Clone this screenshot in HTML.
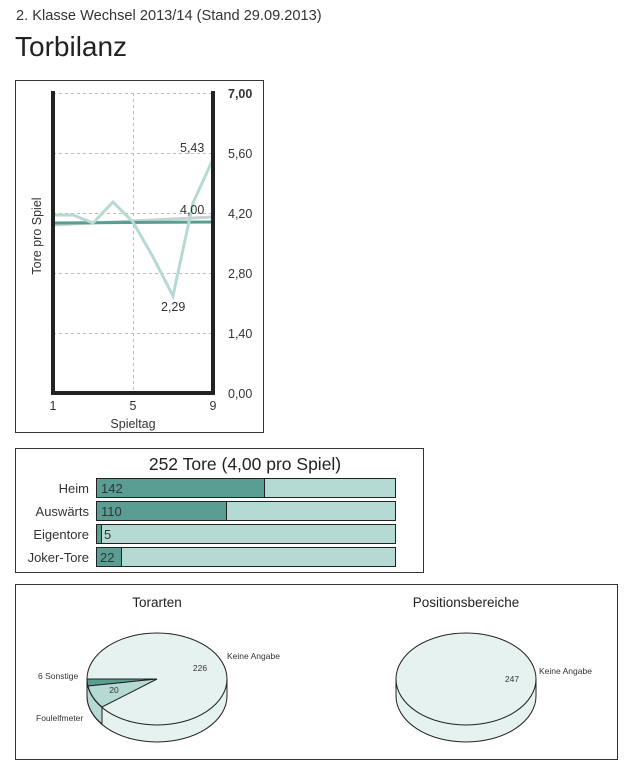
<!DOCTYPE html>
<html><head><meta charset="utf-8"><style>
body{margin:0;background:#fff;width:634px;height:769px;overflow:hidden;font-family:"Liberation Sans",sans-serif;}
</style></head><body>
<svg width="634" height="769" xmlns="http://www.w3.org/2000/svg" font-family="Liberation Sans, sans-serif">
<text x="16" y="20" font-size="14.6" fill="#333">2. Klasse Wechsel 2013/14 (Stand 29.09.2013)</text>
<text x="15" y="56" font-size="28" fill="#222">Torbilanz</text>

<!-- line chart -->
<rect x="15.5" y="80.5" width="248" height="352" fill="#fff" stroke="#333"/>
<g stroke="#bbb" stroke-dasharray="3,3" stroke-width="1">
<line x1="53" y1="93.5" x2="213" y2="93.5"/><line x1="53" y1="153.5" x2="213" y2="153.5"/>
<line x1="53" y1="213.5" x2="213" y2="213.5"/><line x1="53" y1="273.5" x2="213" y2="273.5"/>
<line x1="53" y1="333.5" x2="213" y2="333.5"/><line x1="133.5" y1="93" x2="133.5" y2="393"/>
</g>
<polyline points="53,225 213,217" fill="none" stroke="#c5d3d1" stroke-width="3"/>
<polyline points="53,223 213,222" fill="none" stroke="#5a9e93" stroke-width="3"/>
<polyline points="53,215 73,215 93,223 113,202 133,222 153,257 173,296 193,203 213,159" fill="none" stroke="#b5dad3" stroke-width="3"/>
<g stroke="#222" stroke-width="4" fill="none">
<line x1="53" y1="91" x2="53" y2="395"/><line x1="213" y1="91" x2="213" y2="395"/><line x1="51" y1="393" x2="215" y2="393"/>
</g>
<g font-size="12.5" fill="#333">
<text x="180" y="152">5,43</text><text x="180" y="214">4,00</text><text x="161" y="311">2,29</text>
<text x="228" y="98" font-weight="bold">7,00</text><text x="228" y="158">5,60</text><text x="228" y="218">4,20</text>
<text x="228" y="278">2,80</text><text x="228" y="338">1,40</text><text x="228" y="398">0,00</text>
<text x="53" y="410" text-anchor="middle">1</text><text x="133" y="410" text-anchor="middle">5</text><text x="213" y="410" text-anchor="middle">9</text>
<text x="133" y="428" text-anchor="middle">Spieltag</text>
<text transform="translate(41,236) rotate(-90)" text-anchor="middle">Tore pro Spiel</text>
</g>

<!-- bars -->
<rect x="15.5" y="448.5" width="408" height="124" fill="#fff" stroke="#333"/>
<text x="245" y="470" font-size="17.5" text-anchor="middle" fill="#222">252 Tore (4,00 pro Spiel)</text>
<g font-size="13" fill="#333" stroke="#222">
<rect x="96.5" y="478.5" width="299" height="19" fill="#b5dad3"/><rect x="96.5" y="478.5" width="168" height="19" fill="#5a9e93"/>
<rect x="96.5" y="501.5" width="299" height="19" fill="#b5dad3"/><rect x="96.5" y="501.5" width="130" height="19" fill="#5a9e93"/>
<rect x="96.5" y="524.5" width="299" height="19" fill="#b5dad3"/><rect x="96.5" y="524.5" width="5" height="19" fill="#5a9e93"/>
<rect x="96.5" y="547.5" width="299" height="19" fill="#b5dad3"/><rect x="96.5" y="547.5" width="25" height="19" fill="#5a9e93"/>
</g>
<g font-size="13" fill="#333">
<text x="89" y="493" text-anchor="end">Heim</text><text x="101" y="493">142</text>
<text x="89" y="516" text-anchor="end">Auswärts</text><text x="101" y="516">110</text>
<text x="89" y="539" text-anchor="end">Eigentore</text><text x="104" y="539">5</text>
<text x="89" y="562" text-anchor="end">Joker-Tore</text><text x="100" y="562">22</text>
</g>

<!-- pies -->
<rect x="15.5" y="584.5" width="602" height="175" fill="#fff" stroke="#333"/>
<g font-size="13.5" fill="#222" text-anchor="middle"><text x="157" y="607">Torarten</text><text x="466" y="607">Positionsbereiche</text></g>
<g stroke="#222" stroke-width="1">
<path d="M87,679 L87,696 A70,46 0 0 0 227,696 L227,679 Z" fill="#e6f2ef"/>
<path d="M87,679 L87,696 A70,46 0 0 0 102,724 L102,707 A70,46 0 0 1 87,679 Z" fill="#b5dad3"/>
<ellipse cx="157" cy="679" rx="70" ry="46" fill="#e6f2ef"/>
<path d="M157,679 L87,679 A70,46 0 0 0 88,686 Z" fill="#5a9e93"/>
<path d="M157,679 L88,686 A70,46 0 0 0 102,707 Z" fill="#b5dad3"/>
<path d="M396,679 L396,696 A70,46 0 0 0 536,696 L536,679 Z" fill="#e6f2ef"/>
<ellipse cx="466" cy="679" rx="70" ry="46" fill="#e6f2ef"/>
</g>
<g font-size="8.5" fill="#333">
<text x="200" y="671" text-anchor="middle">226</text><text x="114" y="693" text-anchor="middle">20</text>
<text x="227" y="659">Keine Angabe</text><text x="38" y="679">6 Sonstige</text><text x="36" y="721">Foulelfmeter</text>
<text x="512" y="682" text-anchor="middle">247</text><text x="539" y="674">Keine Angabe</text>
</g>
</svg>
</body></html>
